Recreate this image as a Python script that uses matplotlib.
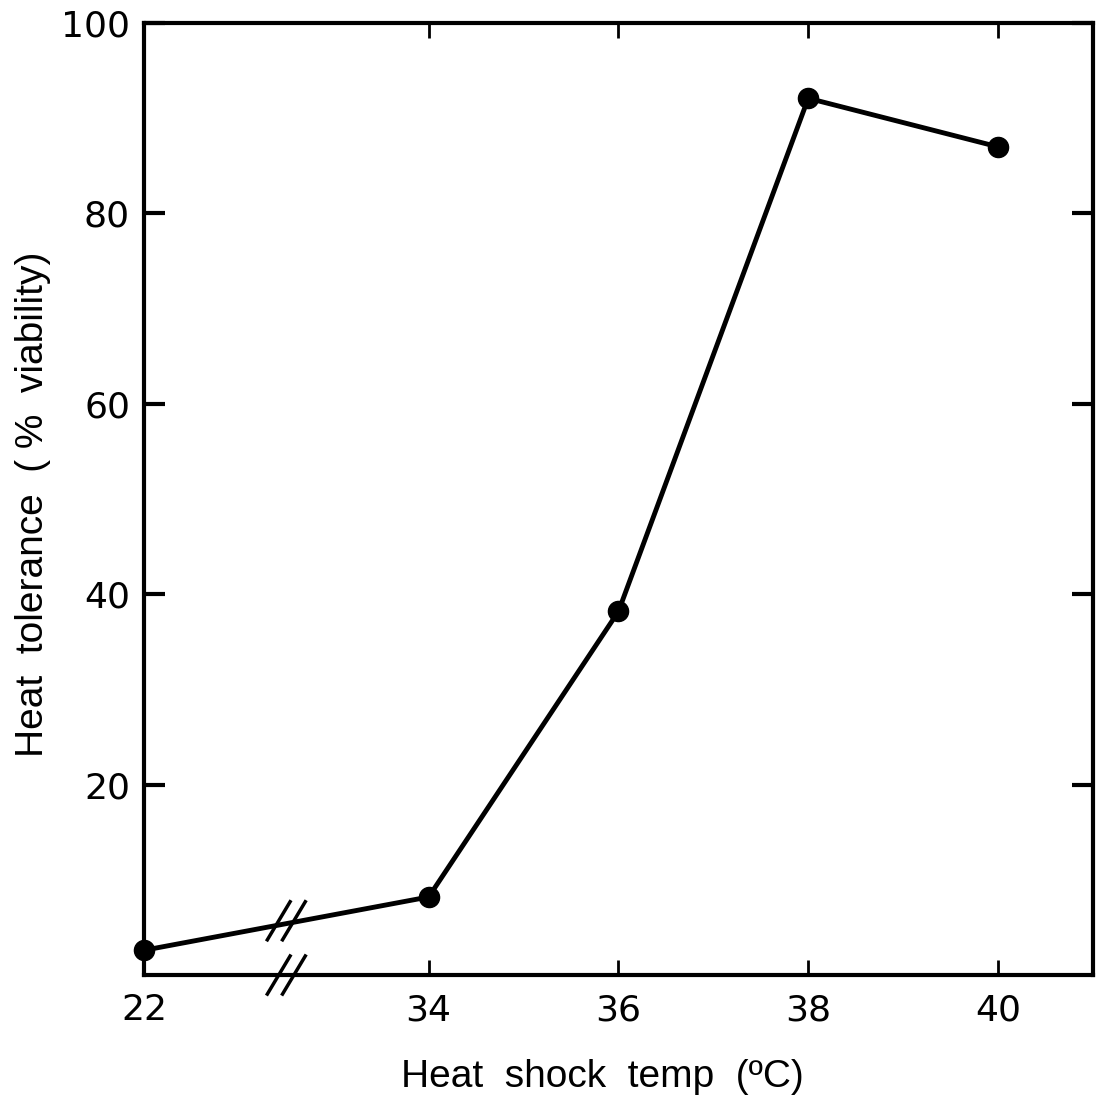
import matplotlib
matplotlib.use("Agg")
import matplotlib.pyplot as plt

temps = [22, 34, 36, 38, 40]
tolerance = [2.6, 8.2, 38.2, 92.1, 87.0]
x_ticks = [22, 34, 36, 38, 40]
y_ticks = [20, 40, 60, 80, 100]

BREAK_FROM = 34
BREAK_LEFT = 31


def to_axis(t):
    # broken axis: everything below 34 collapses onto the left edge
    return t if t >= BREAK_FROM else BREAK_LEFT


plt.rcParams['font.family'] = ['Liberation Sans', 'DejaVu Sans']

fig = plt.figure(figsize=(10.99, 10.99), dpi=100)
ax = fig.add_axes([0.131, 0.1128, 0.8635, 0.8662])

xs = [to_axis(t) for t in temps]
ax.plot(xs, tolerance, color='black', lw=3.5, marker='o', markersize=14.5,
        solid_joinstyle='round', zorder=3, clip_on=False)

ax.set_xlim(31, 41)
ax.set_ylim(0, 100)

ax.set_xticks([to_axis(t) for t in x_ticks])
ax.set_xticklabels([str(t) for t in x_ticks])
ax.set_yticks(y_ticks)
ax.set_yticklabels([str(v) for v in y_ticks])

ax.tick_params(axis='both', direction='in', top=True, right=True)
ax.tick_params(axis='x', length=11, width=2, pad=13)
ax.tick_params(axis='y', length=15, width=3, pad=10)
for lab in ax.get_xticklabels() + ax.get_yticklabels():
    lab.set_fontfamily('DejaVu Sans')
    lab.set_fontsize(26)
for s in ax.spines.values():
    s.set_linewidth(3)

ax.set_xlabel('Heat  shock  temp  (ºC)', fontsize=28, labelpad=23)
ax.set_ylabel('Heat  tolerance  ( %  viability)', fontsize=28)
ax.xaxis.label.set_x(0.483)
ax.yaxis.set_label_coords(-0.098, 0.495)

# break marks on the axis and on the line
bx = 32.5
for dx in (-0.08, 0.08):
    for yc in (0.0, 5.7):
        ax.plot([bx + dx - 0.12, bx + dx + 0.12], [yc - 2.0, yc + 2.0],
                color='black', lw=2.5, clip_on=False, zorder=4)

fig.savefig('out.png', dpi=100, facecolor='white')
